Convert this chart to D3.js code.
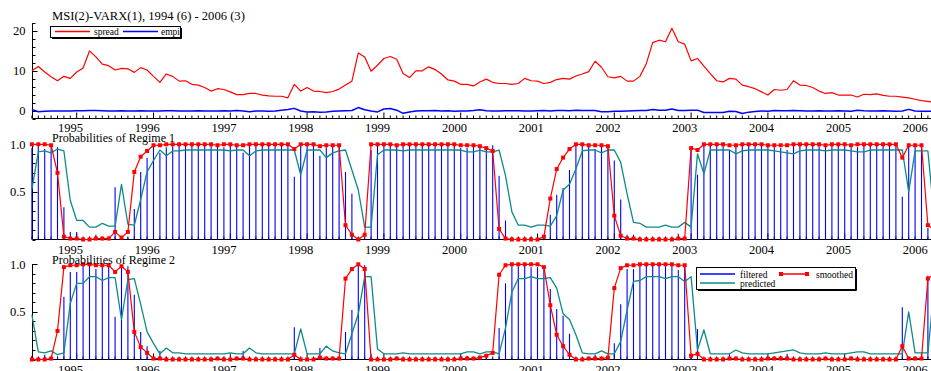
<!DOCTYPE html>
<html>
<head>
<meta charset="utf-8">
<script src="https://cdn.jsdelivr.net/npm/d3@7"></script>
<style>
  html, body { margin: 0; padding: 0; background: #fff; overflow: hidden; }
  svg { display: block; font-family: "Liberation Serif", "Times New Roman", serif; }
</style>
</head>
<body>
<svg id="chart" width="931" height="371"></svg>
<script>
// sample 1994(6) - 2006(3), monthly
const startYear = 1994, startMonth = 6;
const yearLabels = ["1995", "1996", "1997", "1998", "1999", "2000", "2001", "2002", "2003", "2004", "2005", "2006"];

const spread = [
  10.0, 11.1, 9.7, 8.5, 7.5, 8.6, 8.1, 9.7, 10.7, 15.0,
  13.5, 11.7, 11.3, 10.2, 10.6, 10.5, 9.6, 10.8, 10.2, 8.6,
  7.1, 9.2, 8.6, 7.4, 7.5, 6.6, 6.4, 5.8, 4.9, 5.5,
  5.3, 4.7, 4.0, 4.0, 4.3, 4.3, 3.9, 3.7, 3.6, 3.6,
  3.2, 6.6, 4.9, 5.8, 4.9, 4.8, 4.5, 4.8, 5.4, 6.4,
  7.4, 14.5, 13.5, 9.9, 11.4, 13.1, 13.6, 12.9, 9.3, 8.3,
  10.0, 10.0, 11.0, 10.3, 9.2, 7.7, 7.4, 6.6, 6.6, 6.2,
  7.2, 7.9, 7.1, 6.8, 6.8, 6.6, 6.8, 8.1, 7.5, 7.4,
  6.8, 7.1, 7.8, 8.1, 7.9, 8.7, 9.2, 9.8, 12.4, 10.9,
  8.5, 8.2, 8.6, 7.4, 7.4, 8.6, 11.8, 17.1, 17.7, 17.3,
  20.7, 17.3, 16.7, 12.5, 13.1, 11.2, 9.3, 7.5, 7.2, 8.1,
  7.9, 6.4, 6.0, 5.5, 4.7, 3.9, 5.3, 5.1, 5.3, 7.5,
  6.4, 6.3, 5.8, 4.9, 4.3, 4.5, 3.9, 3.9, 3.9, 3.4,
  4.1, 4.0, 4.2, 3.8, 3.6, 3.6, 3.4, 3.2, 2.85, 2.5,
  2.3, 2.1
];

const empi = [
  0.3, -0.3, -0.2, -0.1, -0.1, -0.1, -0.1, -0.05, -0.05, 0.0,
  0.0, -0.05, -0.1, -0.1, -0.05, -0.1, -0.1, -0.05, -0.1, -0.1,
  -0.1, -0.05, -0.05, -0.1, -0.1, -0.1, -0.05, -0.1, -0.1, -0.1,
  -0.05, -0.1, 0.0, -0.1, -0.3, -0.1, -0.1, -0.2, -0.1, 0.1,
  0.25, 0.55, -0.1, -0.35, -0.3, -0.4, -0.35, -0.2, -0.1, -0.05,
  0.0, 0.75, 0.2, -0.1, -0.35, 0.4, 0.5, 0.1, -0.7, -0.35,
  -0.1, -0.05, -0.05, 0.0, -0.1, -0.05, -0.15, -0.1, -0.1, 0.0,
  0.2, -0.05, -0.1, -0.1, -0.05, -0.05, -0.05, -0.1, -0.1, -0.05,
  0.0, -0.1, 0.0, 0.0, -0.05, 0.05, 0.0, 0.0, 0.0, -0.3,
  -0.3, -0.2, -0.2, -0.1, -0.05, 0.0, 0.0, 0.25, 0.05, 0.1,
  0.4, 0.0, 0.0, 0.1, 0.1, -0.5, -0.5, -0.5, -0.5, -0.2,
  -0.25, -0.75, -0.4, -0.25, -0.1, -0.15, 0.0, -0.05, -0.05, 0.0,
  -0.05, -0.1, -0.1, -0.05, -0.1, -0.1, -0.05, -0.1, -0.15, 0.05,
  -0.05, -0.1, -0.1, -0.05, -0.1, -0.2, -0.1, 0.3, -0.1, -0.15,
  -0.2, -0.2
];

// regime 1
const filtered1 = [
  0.96, 0.98, 0.95, 1.0, 0.97, 0.34, 0.08, 0.08, 0.01, 0.01,
  0.05, 0.02, 0.02, 0.55, 0.03, 0.02, 0.32, 0.71, 0.86, 0.99,
  0.91, 0.97, 0.98, 0.99, 0.99, 0.99, 0.99, 0.99, 0.99, 0.99,
  0.97, 0.99, 0.99, 0.91, 0.98, 0.99, 0.99, 0.99, 0.99, 0.99,
  0.99, 0.66, 0.99, 0.99, 0.99, 0.88, 0.97, 0.99, 0.99, 0.71,
  0.48, 0.0, 0.01, 0.94, 0.99, 0.99, 0.99, 0.98, 0.99, 0.99,
  0.99, 0.99, 0.99, 0.99, 0.99, 0.99, 0.99, 0.96, 0.96, 0.99,
  0.96, 0.96, 0.99, 0.67, 0.20, 0.02, 0.02, 0.01, 0.03, 0.03,
  0.02, 0.26, 0.47, 0.54, 0.73, 0.99, 1.0, 0.99, 0.95, 0.99,
  0.99, 0.83, 0.42, 0.05, 0.05, 0.01, 0.01, 0.01, 0.01, 0.02,
  0.01, 0.06, 0.0, 0.95, 0.68, 1.0, 0.99, 0.99, 0.99, 0.94,
  0.98, 0.99, 0.99, 0.99, 0.99, 0.98, 0.97, 0.96, 0.94, 0.98,
  0.99, 0.99, 0.99, 0.98, 0.99, 0.99, 0.99, 0.98, 0.97, 0.97,
  0.99, 0.99, 0.99, 0.99, 0.99, 0.99, 0.45, 0.98, 0.98, 0.98,
  0.12, 0.2
];
const smoothed1 = [
  1.0, 1.0, 1.0, 0.99, 0.70, 0.03, 0.01, 0.01, 0.0, 0.0,
  0.01, 0.01, 0.01, 0.08, 0.02, 0.08, 0.71, 0.87, 0.93, 0.99,
  0.99, 1.0, 1.0, 1.0, 1.0, 1.0, 1.0, 1.0, 1.0, 0.99,
  1.0, 1.0, 0.99, 0.99, 1.0, 1.0, 1.0, 1.0, 1.0, 1.0,
  1.0, 0.95, 1.0, 1.0, 1.0, 0.98, 0.99, 0.99, 0.99, 0.15,
  0.05, 0.0, 0.05, 1.0, 1.0, 1.0, 1.0, 0.99, 1.0, 1.0,
  1.0, 1.0, 1.0, 1.0, 1.0, 1.0, 1.0, 0.99, 0.99, 0.99,
  0.98, 0.96, 0.93, 0.11, 0.01, 0.0, 0.0, 0.0, 0.0, 0.0,
  0.03, 0.43, 0.74, 0.86, 0.95, 1.0, 1.0, 0.99, 0.99, 0.99,
  0.98, 0.25, 0.04, 0.01, 0.01, 0.0, 0.0, 0.0, 0.0, 0.0,
  0.0, 0.01, 0.01, 0.96, 0.94, 1.0, 1.0, 1.0, 1.0, 0.99,
  0.99, 1.0, 1.0, 1.0, 1.0, 0.99, 0.99, 0.99, 0.99, 1.0,
  1.0, 1.0, 1.0, 1.0, 0.99, 1.0, 1.0, 1.0, 0.99, 1.0,
  1.0, 1.0, 1.0, 1.0, 1.0, 1.0, 0.86, 0.99, 0.99, 0.99,
  0.15, 0.1
];
const predicted1 = [
  0.53, 0.92, 0.93, 0.91, 0.95, 0.93, 0.41, 0.20, 0.20, 0.13,
  0.13, 0.17, 0.14, 0.14, 0.58, 0.16, 0.15, 0.42, 0.71, 0.83,
  0.94, 0.88, 0.93, 0.93, 0.94, 0.94, 0.94, 0.94, 0.94, 0.94,
  0.94, 0.93, 0.94, 0.94, 0.88, 0.93, 0.94, 0.94, 0.94, 0.94,
  0.94, 0.94, 0.68, 0.94, 0.94, 0.94, 0.86, 0.91, 0.93, 0.94,
  0.73, 0.52, 0.13, 0.13, 0.89, 0.94, 0.94, 0.94, 0.93, 0.94,
  0.94, 0.94, 0.94, 0.94, 0.94, 0.94, 0.94, 0.94, 0.92, 0.92,
  0.94, 0.92, 0.92, 0.94, 0.67, 0.29, 0.15, 0.15, 0.13, 0.15,
  0.15, 0.14, 0.25, 0.52, 0.58, 0.74, 0.93, 0.94, 0.94, 0.91,
  0.94, 0.94, 0.81, 0.48, 0.18, 0.17, 0.13, 0.13, 0.13, 0.15,
  0.13, 0.13, 0.18, 0.13, 0.90, 0.69, 0.94, 0.94, 0.94, 0.94,
  0.90, 0.93, 0.94, 0.94, 0.94, 0.94, 0.93, 0.92, 0.91, 0.90,
  0.93, 0.94, 0.94, 0.94, 0.93, 0.94, 0.94, 0.94, 0.93, 0.92,
  0.92, 0.94, 0.94, 0.94, 0.94, 0.94, 0.94, 0.50, 0.93, 0.93,
  0.93, 0.23
];

// regime 2
const filtered2 = [
  0.04, 0.02, 0.05, 0.0, 0.03, 0.66, 0.92, 0.92, 0.99, 0.99,
  0.95, 0.98, 0.98, 0.45, 0.97, 0.98, 0.68, 0.29, 0.14, 0.01,
  0.09, 0.03, 0.02, 0.01, 0.01, 0.01, 0.01, 0.01, 0.01, 0.01,
  0.03, 0.01, 0.01, 0.09, 0.02, 0.01, 0.01, 0.01, 0.01, 0.01,
  0.01, 0.34, 0.01, 0.01, 0.01, 0.12, 0.03, 0.01, 0.01, 0.29,
  0.52, 1.0, 0.99, 0.06, 0.01, 0.01, 0.01, 0.02, 0.01, 0.01,
  0.01, 0.01, 0.01, 0.01, 0.01, 0.01, 0.01, 0.04, 0.04, 0.01,
  0.04, 0.04, 0.01, 0.33, 0.80, 0.98, 0.98, 0.99, 0.97, 0.97,
  0.98, 0.74, 0.53, 0.46, 0.27, 0.01, 0.0, 0.01, 0.05, 0.01,
  0.01, 0.17, 0.58, 0.95, 0.95, 0.99, 0.99, 0.99, 0.99, 0.98,
  0.99, 0.94, 1.0, 0.05, 0.32, 0.0, 0.01, 0.01, 0.01, 0.06,
  0.02, 0.01, 0.01, 0.01, 0.01, 0.02, 0.03, 0.04, 0.06, 0.02,
  0.01, 0.01, 0.01, 0.02, 0.01, 0.01, 0.01, 0.02, 0.03, 0.03,
  0.01, 0.01, 0.01, 0.01, 0.01, 0.01, 0.55, 0.02, 0.02, 0.02,
  0.88, 0.8
];
const smoothed2 = [
  0.0, 0.0, 0.0, 0.01, 0.30, 0.97, 0.99, 0.99, 1.0, 1.0,
  0.99, 0.99, 0.99, 0.92, 0.98, 0.92, 0.29, 0.13, 0.07, 0.01,
  0.01, 0.0, 0.0, 0.0, 0.0, 0.0, 0.0, 0.0, 0.0, 0.01,
  0.0, 0.0, 0.01, 0.01, 0.0, 0.0, 0.0, 0.0, 0.0, 0.0,
  0.0, 0.05, 0.0, 0.0, 0.0, 0.02, 0.01, 0.01, 0.01, 0.85,
  0.95, 1.0, 0.95, 0.0, 0.0, 0.0, 0.0, 0.01, 0.0, 0.0,
  0.0, 0.0, 0.0, 0.0, 0.0, 0.0, 0.0, 0.01, 0.01, 0.01,
  0.02, 0.04, 0.07, 0.89, 0.99, 1.0, 1.0, 1.0, 1.0, 1.0,
  0.97, 0.57, 0.26, 0.14, 0.05, 0.0, 0.0, 0.01, 0.01, 0.01,
  0.02, 0.75, 0.96, 0.99, 0.99, 1.0, 1.0, 1.0, 1.0, 1.0,
  1.0, 0.99, 0.99, 0.04, 0.06, 0.0, 0.0, 0.0, 0.0, 0.01,
  0.01, 0.0, 0.0, 0.0, 0.0, 0.01, 0.01, 0.01, 0.01, 0.0,
  0.0, 0.0, 0.0, 0.0, 0.01, 0.0, 0.0, 0.0, 0.01, 0.0,
  0.0, 0.0, 0.0, 0.0, 0.0, 0.0, 0.14, 0.01, 0.01, 0.01,
  0.85, 0.9
];
const predicted2 = [
  0.47, 0.08, 0.07, 0.09, 0.05, 0.07, 0.59, 0.80, 0.80, 0.87,
  0.87, 0.83, 0.86, 0.86, 0.42, 0.84, 0.85, 0.58, 0.29, 0.17,
  0.06, 0.12, 0.07, 0.07, 0.06, 0.06, 0.06, 0.06, 0.06, 0.06,
  0.06, 0.07, 0.06, 0.06, 0.12, 0.07, 0.06, 0.06, 0.06, 0.06,
  0.06, 0.06, 0.32, 0.06, 0.06, 0.06, 0.14, 0.09, 0.07, 0.06,
  0.27, 0.48, 0.87, 0.87, 0.11, 0.06, 0.06, 0.06, 0.07, 0.06,
  0.06, 0.06, 0.06, 0.06, 0.06, 0.06, 0.06, 0.06, 0.08, 0.08,
  0.06, 0.08, 0.08, 0.06, 0.33, 0.71, 0.85, 0.85, 0.87, 0.85,
  0.85, 0.86, 0.75, 0.48, 0.42, 0.26, 0.07, 0.06, 0.06, 0.09,
  0.06, 0.06, 0.19, 0.52, 0.82, 0.83, 0.87, 0.87, 0.87, 0.85,
  0.87, 0.87, 0.82, 0.87, 0.10, 0.31, 0.06, 0.06, 0.06, 0.06,
  0.10, 0.07, 0.06, 0.06, 0.06, 0.06, 0.07, 0.08, 0.09, 0.10,
  0.07, 0.06, 0.06, 0.06, 0.07, 0.06, 0.06, 0.06, 0.07, 0.08,
  0.08, 0.06, 0.06, 0.06, 0.06, 0.06, 0.06, 0.50, 0.07, 0.07,
  0.07, 0.77
];

const RED = '#ff0000', BLUE = '#0000ff', TEAL = '#0e8a8a';

const svg = d3.select('#chart');
const n = spread.length;
const idx = d3.range(n);

// equal spacing per month; last obs falls just outside the window
const x = d3.scaleLinear().domain([0, n - 1]).range([31.9, 934.3]);
const axisX = 32.5;

const yTop = d3.scaleLinear().domain([-2, 22]).range([118.5, 23.1]);
const yReg1 = d3.scaleLinear().domain([0, 1]).range([239.5, 144.3]);
const yReg2 = d3.scaleLinear().domain([0, 1]).range([359.5, 264.3]);

const yearIndex = yr => (+yr - startYear) * 12 + (1 - startMonth);

function drawAxes(y, majors, minorStep, fmt, labelBaseline) {
  const g = svg.append('g').attr('stroke', '#000').attr('stroke-width', 1);
  const [yb, yt] = y.range();
  const [d0, d1] = y.domain();

  g.append('line').attr('x1', axisX).attr('x2', axisX).attr('y1', yb).attr('y2', yt);
  g.append('line').attr('x1', axisX).attr('x2', 940).attr('y1', yb).attr('y2', yb);

  // y ticks, pointing inwards
  const minors = d3.range(d0, d1 + minorStep / 2, minorStep);
  g.selectAll('line.ymin').data(minors).join('line')
    .attr('x1', axisX).attr('x2', axisX + 3)
    .attr('y1', d => Math.round(y(d)) + 0.5).attr('y2', d => Math.round(y(d)) + 0.5);
  g.selectAll('line.ymaj').data(majors).join('line')
    .attr('x1', axisX).attr('x2', axisX + 5)
    .attr('y1', d => Math.round(y(d)) + 0.5).attr('y2', d => Math.round(y(d)) + 0.5);

  svg.append('g').selectAll('text').data(majors).join('text')
    .attr('x', 25.5).attr('y', d => y(d) + 4.2)
    .attr('text-anchor', 'end').attr('font-size', 12.5)
    .text(fmt);

  // monthly ticks, long ones at January
  g.selectAll('line.xt').data(idx).join('line')
    .attr('x1', d => x(d)).attr('x2', d => x(d))
    .attr('y1', yb).attr('y2', d => ((d + startMonth - 1) % 12 === 0) ? yb - 6 : yb - 3);

  svg.append('g').selectAll('text').data(yearLabels).join('text')
    .attr('x', d => x(yearIndex(d)) - 6.3).attr('y', labelBaseline)
    .attr('text-anchor', 'middle').attr('font-size', 12.5)
    .text(d => d);
}

function drawLine(values, y, color, width) {
  svg.append('path').datum(values)
    .attr('fill', 'none').attr('stroke', color).attr('stroke-width', width)
    .attr('stroke-linejoin', 'round')
    .attr('d', d3.line().x((d, i) => x(i)).y(d => y(d)));
}

function drawProb(filt, smooth, pred, y) {
  svg.append('g').selectAll('line').data(filt).join('line')
    .attr('x1', (d, i) => x(i)).attr('x2', (d, i) => x(i))
    .attr('y1', y(0)).attr('y2', d => y(d))
    .attr('stroke', BLUE).attr('stroke-width', 1.1);
  drawLine(pred, y, TEAL, 1.3);
  drawLine(smooth, y, RED, 1.2);
  svg.append('g').selectAll('rect').data(smooth).join('rect')
    .attr('x', (d, i) => x(i) - 2).attr('y', d => y(d) - 2)
    .attr('width', 4).attr('height', 4).attr('fill', RED);
}

function legendBox(x0, y0, w, h) {
  const g = svg.append('g');
  g.append('rect').attr('x', x0 + 0.5).attr('y', y0 + 0.5).attr('width', w).attr('height', h)
    .attr('fill', '#fff').attr('stroke', '#000').attr('stroke-width', 1);
  g.append('path')
    .attr('d', `M${x0 + 2},${y0 + h + 1.5} H${x0 + w + 1.5} V${y0 + 2}`)
    .attr('fill', 'none').attr('stroke', '#000').attr('stroke-width', 1);
  return g;
}

function legendLine(g, x1, x2, yy, color) {
  g.append('line').attr('x1', x1).attr('x2', x2).attr('y1', yy).attr('y2', yy)
    .style('stroke', color).style('stroke-width', 1.5);
}

// ---- panel 1
drawAxes(yTop, [0, 10, 20], 2, d => d, 132);
drawLine(spread, yTop, RED, 1.2);
drawLine(empi, yTop, BLUE, 1.5);
svg.append('text').attr('x', 52).attr('y', 20).attr('font-size', 12.6)
  .text('MSI(2)-VARX(1), 1994 (6) - 2006 (3)');

const lg1 = legendBox(50, 26, 130, 11);
legendLine(lg1, 55, 90, 31.5, RED);
lg1.append('text').attr('x', 94).attr('y', 35).attr('font-size', 9.5).text('spread');
legendLine(lg1, 123, 158, 31.5, BLUE);
lg1.append('text').attr('x', 161).attr('y', 35).attr('font-size', 9.5).text('empi');

// ---- panel 2
drawAxes(yReg1, [0.5, 1.0], 0.1, d => d.toFixed(1), 253.8);
drawProb(filtered1, smoothed1, predicted1, yReg1);
svg.append('text').attr('x', 52).attr('y', 142).attr('font-size', 12)
  .text('Probabilities of Regime 1');

// ---- panel 3
drawAxes(yReg2, [0.5, 1.0], 0.1, d => d.toFixed(1), 373.5);
drawProb(filtered2, smoothed2, predicted2, yReg2);
svg.append('text').attr('x', 52).attr('y', 263.5).attr('font-size', 12)
  .text('Probabilities of Regime 2');

const lg3 = legendBox(696, 267, 159, 22);
legendLine(lg3, 700, 735, 274, BLUE);
lg3.append('text').attr('x', 740).attr('y', 277.5).attr('font-size', 9.5).text('filtered');
legendLine(lg3, 781, 807, 274, RED);
lg3.selectAll('rect.m').data([781, 807]).join('rect')
  .attr('x', d => d - 2).attr('y', 272).attr('width', 4).attr('height', 4).attr('fill', RED);
lg3.append('text').attr('x', 816).attr('y', 277.5).attr('font-size', 9.5).text('smoothed');
legendLine(lg3, 700, 735, 283, TEAL);
lg3.append('text').attr('x', 740).attr('y', 286.5).attr('font-size', 9.5).text('predicted');
</script>
</body>
</html>
